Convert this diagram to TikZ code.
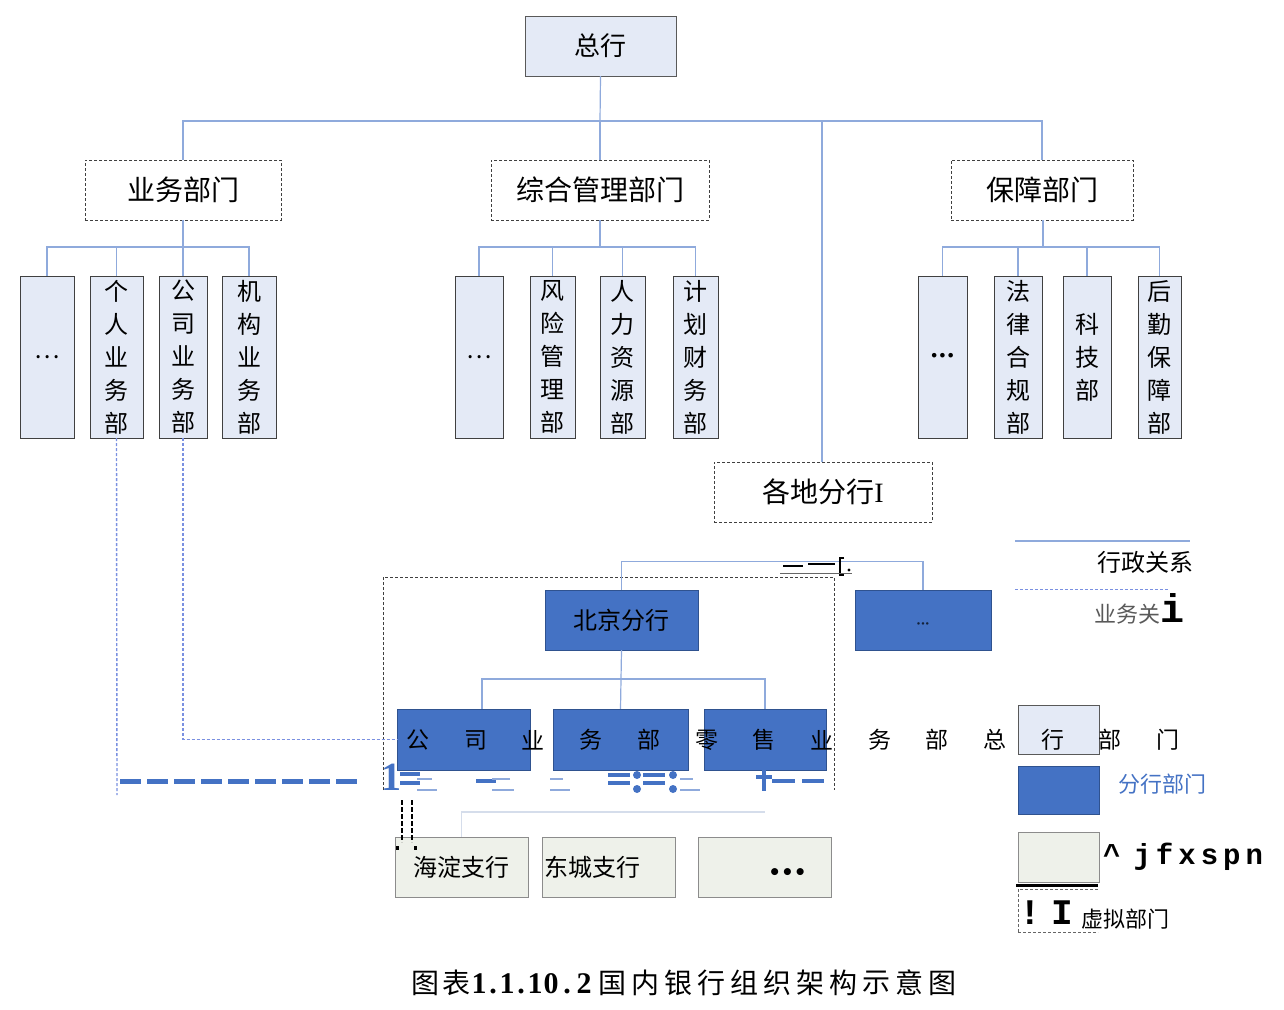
\documentclass[tikz,border=0pt]{standalone}
\usepackage{fontspec}
\setmainfont{Noto Sans CJK SC}
\newfontfamily\serifnum{Liberation Serif}
\newfontfamily\monof{Liberation Mono}
\newfontfamily\dejavu{DejaVu Sans}
\definecolor{hqfill}{HTML}{E4EAF6}
\definecolor{linec}{HTML}{8FAADC}
\definecolor{bluebox}{HTML}{4472C4}
\definecolor{blueedge}{HTML}{2F528F}
\definecolor{brfill}{HTML}{EEF1EA}
\definecolor{lightline}{HTML}{D5DDEB}
\tikzset{
  hqbox/.style={draw=black!65, fill=hqfill, inner sep=0pt},
  grpbox/.style={draw=black!75, dash pattern=on 3pt off 2pt, fill=white, minimum height=60pt, inner sep=0pt, font=\fontsize{28}{32}\selectfont},
  colbox/.style={draw=black!75, fill=hqfill, minimum height=162pt, inner sep=0pt, align=center, font=\fontsize{24}{33}\selectfont},
  bbox/.style={draw=blueedge, fill=bluebox, inner sep=0pt, font=\fontsize{24}{28}\selectfont},
  brbox/.style={draw=black!45, fill=brfill, minimum width=133pt, minimum height=60pt, inner sep=0pt, font=\fontsize{24}{28}\selectfont},
  conn/.style={draw=linec, line width=1.2pt},
  bizline/.style={draw=linec!85!blue, line width=1.4pt, dash pattern=on 3pt off 2pt},
  thickdash/.style={draw=bluebox, line width=5pt, dash pattern=on 21pt off 6pt},
  bluemark/.style={draw=bluebox, line width=4pt},
  thinmark/.style={draw=linec, line width=1.2pt},
  spread/.style={font=\fontsize{23}{26}\selectfont, inner sep=0pt},
  captxt/.style={font=\fontsize{28}{32}\selectfont, inner sep=0pt},
}
\begin{document}
\begin{tikzpicture}[x=1pt,y=-1pt]
\useasboundingbox (0,0) rectangle (1284,1009);

% head office
\node[hqbox, minimum width=151pt, minimum height=60pt, font=\fontsize{26}{30}\selectfont] (hq) at (600.5,46) {总行};

% groups
\node[grpbox, minimum width=196pt] (g1) at (183,190) {业务部门};
\node[grpbox, minimum width=218pt] (g2) at (600,190) {综合管理部门};
\node[grpbox, minimum width=182pt] (g3) at (1042,190) {保障部门};
\node[grpbox, minimum width=218pt] (fh) at (823,492) {各地分行{\serifnum I}};

\coordinate (b0) at (600,121);
\draw[conn] (hq.south) -- (b0);
\draw[conn] (g1.north) |- (b0);
\draw[conn] (g2.north) -- (b0);
\draw[conn] (g3.north) |- (b0);
\draw[conn] ([xshift=-1pt]fh.north) |- (b0);

% columns
\node[colbox, minimum width=54pt] (c11) at (47,357) {…};
\node[colbox, minimum width=53pt] (c12) at (116.5,357) {个\\人\\业\\务\\部};
\node[colbox, minimum width=48pt] (c13) at (183,357) {公\\司\\业\\务\\部};
\node[colbox, minimum width=54pt] (c14) at (249,357) {机\\构\\业\\务\\部};
\node[colbox, minimum width=48pt] (c21) at (479,357) {…};
\node[colbox, minimum width=45pt] (c22) at (552.5,357) {风\\险\\管\\理\\部};
\node[colbox, minimum width=45pt] (c23) at (622.5,357) {人\\力\\资\\源\\部};
\node[colbox, minimum width=45pt] (c24) at (695.5,357) {计\\划\\财\\务\\部};
\node[colbox, minimum width=49pt] (c31) at (942.5,357) {{\dejavu\bfseries\fontsize{13}{14}\selectfont •••}};
\node[colbox, minimum width=48pt] (c32) at (1018,357) {法\\律\\合\\规\\部};
\node[colbox, minimum width=48pt] (c33) at (1087,357) {科\\技\\部};
\node[colbox, minimum width=43pt] (c34) at (1159.5,357) {后\\勤\\保\\障\\部};

\coordinate (s1) at (183,247);
\coordinate (s2) at (600,247);
\coordinate (s3) at (1043,247);
\draw[conn] (g1.south) -- (s1);
\draw[conn] (g2.south) -- (s2);
\draw[conn] ([xshift=1pt]g3.south) -- (s3);
\foreach \n in {c11,c12,c13,c14} \draw[conn] (\n.north) |- (s1);
\foreach \n in {c21,c22,c23,c24} \draw[conn] (\n.north) |- (s2);
\foreach \n in {c31,c32,c33,c34} \draw[conn] (\n.north) |- (s3);

% virtual dashed frame
\draw[draw=black!75, dash pattern=on 3pt off 2pt, line width=1pt] (383,790) -- (383,577) -- (834,577) -- (834,790);

% branch level
\node[bbox, minimum width=153pt, minimum height=60pt] (bj) at (621.5,620) {北京分行};
\node[bbox, minimum width=136pt, minimum height=60pt, font=\dejavu\bfseries\fontsize{7}{8}\selectfont, text=blueedge!40!black] (rd) at (923,620) {\raisebox{-6pt}[0pt][0pt]{•••}};
\draw[conn] (bj.north) -- ++(0,-28) -| (rd.north);

% artifact near branch bus
\draw[black, line width=1.6pt] (783,566) -- (803,566);
\draw[black, line width=1.2pt] (808,564) -- (835,564);
\draw[black, line width=1.6pt] (844,558) -- (840,558) -- (840,575) -- (844,575);
\fill[black] (849,570) circle (1.6pt);
\draw[black!60, line width=0.8pt] (780,573) -- (852,573);

% departments of Beijing branch
\node[bbox, minimum width=133pt, minimum height=61pt] (d1) at (463.5,739.5) {};
\node[bbox, minimum width=135pt, minimum height=61pt] (d2) at (620.5,739.5) {};
\node[bbox, minimum width=122pt, minimum height=61pt] (d3) at (765,739.5) {};
\coordinate (k0) at (621,679);
\draw[conn] (bj.south) -- (k0);
\draw[conn] (k0) -| ([xshift=18.5pt]d1.north);
\draw[conn] (k0) -| (d3.north);
\draw[conn] (k0) -- (d2.north);

% legend boxes
\node[hqbox, minimum width=81pt, minimum height=49pt] (lg1) at (1058.5,729.5) {};
\node[bbox, minimum width=81pt, minimum height=48pt] (lg2) at (1058.5,790) {};
\node[brbox, minimum width=81pt, minimum height=50pt] (lg3) at (1058.5,857) {};

% spread text over the department row
\foreach \c [count=\i] in {公,司,业,务,部,零,售,业,务,部,总,行,部,门}
  \node[spread] (sp\i) at ({418+(\i-1)*57.7},740) {\c};

% business relation lines
\coordinate (bz1) at (117,795);
\draw[bizline] (c12.south) -- (bz1);
\draw[bizline] (c13.south) |- (d1.west);

% thick blue dashed line and artifacts
\coordinate (t0) at (120,781);
\coordinate (t1) at (358,781);
\draw[thickdash] (t0) -- (t1);
\node[font=\serifnum\bfseries\fontsize{40}{40}\selectfont, text=bluebox, inner sep=0pt] (one) at (391,777) {1};
\draw[bluemark] (400,774) -- (420,774);
\draw[bluemark] (400,783) -- (420,783);
\draw[thinmark] (417,779) -- (432,779);
\draw[thinmark] (417,790) -- (437,790);
\draw[bluemark] (476,781) -- (496,781);
\draw[thinmark] (492,779) -- (510,779);
\draw[thinmark] (492,790) -- (514,790);
\draw[thinmark] (550,779) -- (563,779);
\draw[thinmark] (550,790) -- (570,790);
\draw[bluemark] (608,775) -- (630,775);
\draw[bluemark] (608,783) -- (630,783);
\draw[bluemark] (643,775) -- (665,775);
\draw[bluemark] (643,783) -- (665,783);
\foreach \xx in {637,673} { \fill[bluebox] (\xx,775) circle (4pt); \fill[bluebox] (\xx,789) circle (4pt); }
\draw[thinmark] (680,779) -- (693,779);
\draw[thinmark] (680,790) -- (700,790);
\draw[bluemark] (756,777) -- (772,777);
\draw[bluemark] (764,769) -- (764,791);
\draw[bluemark] (772,781) -- (795,781);
\draw[bluemark] (802,781) -- (824,781);

% sub-branches
\node[brbox] (br1) at (461.5,867) {海淀支行};
\node[brbox] (br2) at (608.5,867) {东城支行\kern33pt};
\node[brbox] (br3) at (764.5,867) {\kern46pt\raisebox{-12pt}[0pt][0pt]{\dejavu\bfseries\fontsize{20}{22}\selectfont •••}};
\coordinate (z1) at (765,812);
\draw[draw=lightline, line width=1.5pt] (br1.north) |- (z1);
\draw[black, line width=1.4pt, dash pattern=on 5pt off 2pt] (402,800) -- (402,842);
\draw[black, line width=1.4pt, dash pattern=on 5pt off 2pt] (412,800) -- (412,842);
\fill[black] (396,846) rectangle (399,850);
\fill[black] (414,846) rectangle (417,850);

% legend
\coordinate (la0) at (1015,541);
\coordinate (la1) at (1190,541);
\draw[conn] (la0) -- (la1);
\node[font=\fontsize{24}{28}\selectfont, inner sep=0pt] (lt1) at (1145,562) {行政关系};
\coordinate (lb0) at (1015,589);
\coordinate (lb1) at (1168,589);
\draw[bizline, line width=1pt] (lb0) -- (lb1);
\node[font=\fontsize{22}{26}\selectfont, text=black!65, inner sep=0pt, anchor=west] (lt2) at (1094,609) {业务关{\monof\bfseries\fontsize{40}{40}\selectfont\color{black}i}};
\node[font=\fontsize{22}{26}\selectfont, text=bluebox, inner sep=0pt] (lt3) at (1162,784) {分行部门};
\node[font=\monof\bfseries\fontsize{29}{30}\selectfont, inner sep=0pt, anchor=west] (lt4) at (1103,857) {\^{}\kern13pt j\kern5pt f\kern5pt x\kern5pt s\kern5pt p\kern5pt n};
\coordinate (lc0) at (1016,885);
\coordinate (lc1) at (1098,885);
\draw[black, line width=3pt] (lc0) -- (lc1);
\draw[draw=black!60, dash pattern=on 3pt off 2pt, line width=0.8pt] (1018,932) -- (1018,889) -- (1098,889);
\draw[draw=black!60, dash pattern=on 3pt off 2pt, line width=0.8pt] (1018,932) -- (1098,932);
\node[font=\monof\bfseries\fontsize{36}{36}\selectfont, inner sep=0pt] (lt5) at (1030,913) {!};
\node[font=\monof\bfseries\fontsize{36}{36}\selectfont, inner sep=0pt] (lt6) at (1062,913) {I};
\node[font=\fontsize{22}{26}\selectfont, inner sep=0pt, anchor=west] (lt7) at (1081,919) {虚拟部门};

% caption
\node[captxt] (cp1) at (425,983) {图};
\node[captxt] (cp2) at (456,983) {表};
\foreach \c/\xx [count=\i] in {1/479,./493,1/507,./521,1/535,0/551,./567,2/584}
  \node[font=\serifnum\bfseries\fontsize{30}{32}\selectfont, inner sep=0pt, anchor=base] (cn\i) at (\xx,993) {\c};
\foreach \c [count=\i] in {国,内,银,行,组,织,架,构,示,意,图}
  \node[captxt] (cq\i) at ({612+(\i-1)*33},983) {\c};
\end{tikzpicture}
\end{document}
